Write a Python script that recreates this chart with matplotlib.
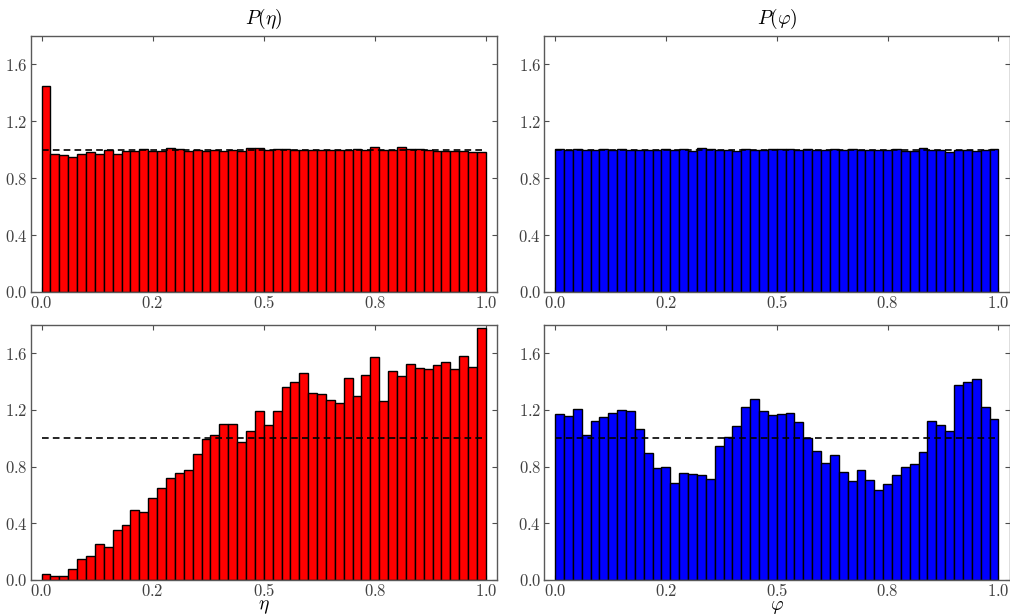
import numpy as np
import matplotlib
matplotlib.use("Agg")
import matplotlib.pyplot as plt
from matplotlib.ticker import FixedLocator, FixedFormatter

plt.rcParams['mathtext.fontset'] = 'cm'
plt.rcParams['font.family'] = ['DejaVu Serif']

# ---- data (50 bins on [0, 1]) ----
n_bins = 50
eta_uniform = [1.451, 0.970, 0.960, 0.951, 0.972, 0.981, 0.972, 0.995, 0.970, 0.991,
               0.993, 1.002, 0.993, 0.988, 1.009, 1.002, 0.988, 0.995, 0.991, 0.995,
               0.993, 1.000, 0.988, 1.009, 1.012, 1.000, 1.002, 1.004, 0.997, 0.997,
               0.995, 0.995, 0.995, 0.995, 1.000, 1.004, 1.000, 1.020, 1.000, 0.995,
               1.018, 1.002, 1.002, 0.995, 0.988, 0.993, 0.993, 0.993, 0.983, 0.986]
phi_uniform = [1.005, 1.000, 1.005, 1.000, 1.000, 1.002, 1.000, 1.002, 1.000, 1.000,
               1.000, 1.000, 1.002, 1.000, 1.005, 0.990, 1.015, 1.005, 1.000, 0.995,
               0.990, 1.005, 1.000, 1.000, 1.002, 1.005, 1.003, 1.000, 1.002, 1.000,
               1.000, 1.002, 1.000, 1.002, 1.000, 1.000, 1.000, 1.000, 1.002, 0.990,
               0.993, 1.015, 1.000, 1.000, 0.985, 1.000, 1.000, 0.992, 1.000, 1.005]
eta_sample = [0.042, 0.031, 0.026, 0.077, 0.148, 0.171, 0.256, 0.230, 0.350, 0.385,
              0.491, 0.477, 0.580, 0.648, 0.721, 0.756, 0.779, 0.890, 0.993, 1.026,
              1.099, 1.099, 0.972, 1.054, 1.190, 1.094, 1.190, 1.359, 1.401, 1.460,
              1.322, 1.315, 1.270, 1.249, 1.427, 1.298, 1.448, 1.573, 1.265, 1.474,
              1.439, 1.526, 1.495, 1.491, 1.521, 1.538, 1.486, 1.580, 1.507, 1.779]
phi_sample = [1.174, 1.160, 1.209, 1.026, 1.120, 1.153, 1.178, 1.200, 1.195, 1.068,
              0.899, 0.791, 0.800, 0.685, 0.756, 0.749, 0.739, 0.714, 0.948, 1.009,
              1.089, 1.223, 1.279, 1.190, 1.167, 1.174, 1.178, 1.117, 1.000, 0.913,
              0.829, 0.885, 0.765, 0.700, 0.779, 0.709, 0.638, 0.678, 0.739, 0.796,
              0.819, 0.904, 1.120, 1.094, 1.049, 1.373, 1.399, 1.418, 1.218, 1.139]
reference_level = 1.0

xtick_pos = [0.0, 0.25, 0.5, 0.75, 1.0]
xtick_labels = ['0.0', '0.2', '0.5', '0.8', '1.0']
ytick_pos = [0.0, 0.4, 0.8, 1.2, 1.6]
ytick_labels = ['0.0', '0.4', '0.8', '1.2', '1.6']

titles = [r'$P(\eta)$', r'$P(\varphi)$']
xlabels = [r'$\eta$', r'$\varphi$']

edges = np.linspace(0.0, 1.0, n_bins + 1)

W, H = 1010, 616
fig = plt.figure(figsize=(W / 100, H / 100), dpi=100)

def rect(l, t, r, b):
    return [l / W, 1 - b / H, (r - l) / W, (b - t) / H]

axes = {
    (0, 0): fig.add_axes(rect(30.5, 36, 497, 292)),
    (0, 1): fig.add_axes(rect(544, 36, 1009.5, 292)),
    (1, 0): fig.add_axes(rect(30.5, 325, 497, 580)),
    (1, 1): fig.add_axes(rect(544, 325, 1009.5, 580)),
}
data = {
    (0, 0): (eta_uniform, 'red'),
    (0, 1): (phi_uniform, 'blue'),
    (1, 0): (eta_sample, 'red'),
    (1, 1): (phi_sample, 'blue'),
}

for (r, c), ax in axes.items():
    vals, col = data[(r, c)]
    ax.bar(edges[:-1], vals, width=np.diff(edges), align='edge',
           color=col, edgecolor='black', linewidth=1.0, zorder=2)
    ax.plot([0, 1], [reference_level, reference_level], color='black',
            linestyle=(0, (4, 2.5)), linewidth=1.2, zorder=3)
    ax.set_xlim(-0.025, 1.025)
    ax.set_ylim(0, 1.8)
    ax.xaxis.set_major_locator(FixedLocator(xtick_pos))
    ax.xaxis.set_major_formatter(FixedFormatter(['$' + s + '$' for s in xtick_labels]))
    ax.yaxis.set_major_locator(FixedLocator(ytick_pos))
    ax.yaxis.set_major_formatter(FixedFormatter(['$' + s + '$' for s in ytick_labels]))
    ax.tick_params(direction='in', top=True, right=True, length=3.5, width=0.8,
                   labelsize=12, pad=2, colors='0.3', labelcolor='0.25')
    for sp in ax.spines.values():
        sp.set_color('0.35')
        sp.set_linewidth(1.0)
    if r == 0:
        ax.set_title(titles[c], fontsize=14, pad=9)
    else:
        ax.set_xlabel(xlabels[c], fontsize=14, labelpad=-1)

fig.savefig('out.png', dpi=100)
